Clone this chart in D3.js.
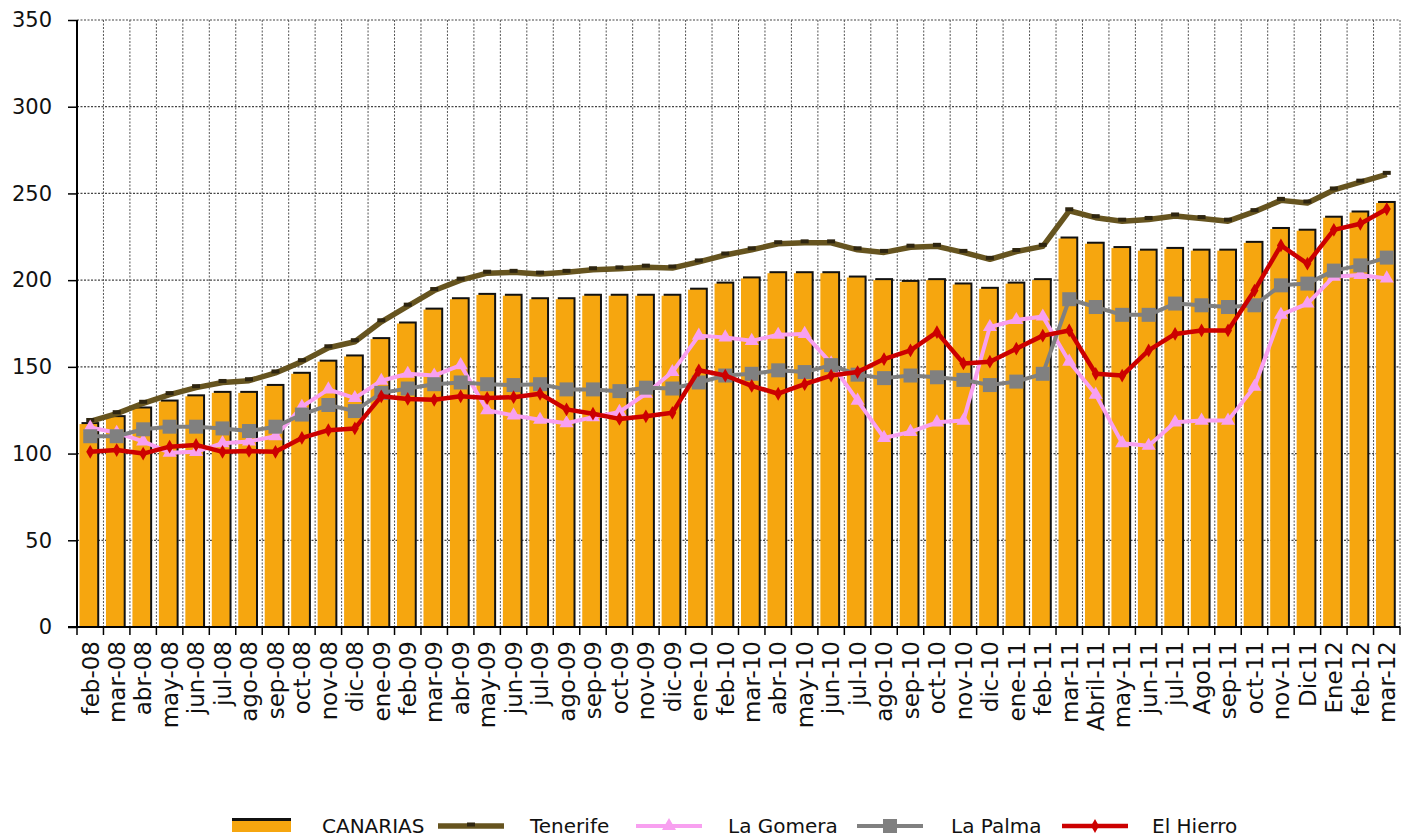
<!DOCTYPE html>
<meta charset="utf-8">
<style>
  body { margin: 0; background: #fff; }
  text { font-family: "DejaVu Sans", Verdana, sans-serif; fill: #111; }
</style>
<body>
<script src="https://cdn.jsdelivr.net/npm/d3@7"></script>
<script>
// months on the x axis
var months = ["feb-08","mar-08","abr-08","may-08","jun-08","jul-08","ago-08","sep-08","oct-08","nov-08","dic-08",
  "ene-09","feb-09","mar-09","abr-09","may-09","jun-09","jul-09","ago-09","sep-09","oct-09","nov-09","dic-09",
  "ene-10","feb-10","mar-10","abr-10","may-10","jun-10","jul-10","ago-10","sep-10","oct-10","nov-10","dic-10",
  "ene-11","feb-11","mar-11","Abril-11","may-11","jun-11","jul-11","Ago11","sep-11","oct-11","nov-11","Dic11",
  "Ene12","feb-12","mar-12"];

// bars
var canarias = [117,121,126,130,133,135,135,139,146,153,156,166,175,183,189,191.5,191,189,189,191,191,191,191,
  194.5,198,201,204,204,204,201.5,200,199,200,197.5,195,198,200,224,221,218.5,217,218,217,217,221.5,229.5,228.5,
  236,239,244.5];

// lines
var tenerife = [118.5,123,129,134,138,141,142,146.5,153,161,164.5,176,185,194,200,204,204.5,203.5,204.5,206,206.5,
  207.5,207,210.5,214.5,217.5,221,221.5,221.5,217.5,216,219,219.5,216,212,216.5,219.5,240,236,234,235,237,235.5,
  234,239.5,246,244.5,252,256.5,261];
var laGomera = [115,112,107,100.5,101,106,107,110,127,137,132,142,146,145,151,125,122,119.5,117.5,121,124,134.5,
  147,168,167,165,168.5,169,152,130.5,109,112.5,118,119,173,177,179,153,134,106,104.5,118,119,119,138.5,180,186.5,
  202,203,201];
var laPalma = [110,110,114,115.5,115.5,114.5,113,115.5,122.5,128,124.5,135,137.5,140,141,140,139.5,140,137,137,136,
  138,137.5,141,145,146,148,147,151,145.5,143.5,145,144,142.5,139.5,141.5,146,189,184.5,180,180,186.5,185.5,184.5,
  185.5,197,198,205.5,208.5,213];
var elHierro = [101,102,100,104,105,101,101.5,101,109,113.5,114.5,133,131.5,131,133,132,132.5,134.5,125.5,123,120,
  121.5,123.5,148,145,139,134.5,140,145,147,154.5,159.5,170,152,153,160.5,168,171,146,145,159.5,169,171,171,194,
  220,209.5,229,232.5,241];

var yTicks = [0,50,100,150,200,250,300,350];

var width = 1402, height = 840;
var plotLeft = 77, plotRight = 1400, plotTop = 20, plotBottom = 627;

var svg = d3.select("body").append("svg")
  .attr("width", width)
  .attr("height", height);

var x = d3.scaleBand().domain(months).range([plotLeft, plotRight]).padding(0);
var y = d3.scaleLinear().domain([0, 350]).range([plotBottom, plotTop]);
var step = x.step();

// grid, behind the bars
svg.append("g").selectAll("line")
  .data(yTicks.filter(function(d){ return d > 0; }))
  .enter().append("line")
    .attr("x1", plotLeft).attr("x2", plotRight)
    .attr("y1", function(d){ return y(d); }).attr("y2", function(d){ return y(d); })
    .attr("stroke", "#444").attr("stroke-width", 1.2).attr("stroke-dasharray", "2,1.5");

svg.append("g").selectAll("line")
  .data(months.slice(1).map(function(m){ return x(m); }).concat([plotRight]))
  .enter().append("line")
    .attr("x1", function(d){ return d; }).attr("x2", function(d){ return d; })
    .attr("y1", plotTop).attr("y2", plotBottom)
    .attr("stroke", "#555").attr("stroke-width", 1).attr("stroke-dasharray", "2,1.5");

// bars with a dark edge
var barW = step * 0.67;
var bars = svg.append("g");
bars.selectAll("rect.shadow")
  .data(canarias)
  .enter().append("rect")
    .attr("class", "shadow")
    .attr("x", function(d, i){ return x(months[i]) + 4.5; })
    .attr("y", function(d){ return y(d) - 2; })
    .attr("width", barW)
    .attr("height", function(d){ return plotBottom - y(d) + 2; })
    .attr("fill", "#111");
bars.selectAll("rect.bar")
  .data(canarias)
  .enter().append("rect")
    .attr("class", "bar")
    .attr("x", function(d, i){ return x(months[i]) + 2.5; })
    .attr("y", function(d){ return y(d); })
    .attr("width", barW)
    .attr("height", function(d){ return plotBottom - y(d); })
    .attr("fill", "#f6a60f");

// axes
svg.append("line").attr("x1", plotLeft).attr("x2", plotLeft).attr("y1", plotTop).attr("y2", plotBottom)
  .attr("stroke", "#000").attr("stroke-width", 2);
svg.append("line").attr("x1", plotLeft - 9).attr("x2", plotRight).attr("y1", plotBottom).attr("y2", plotBottom)
  .attr("stroke", "#000").attr("stroke-width", 2);

var yAxis = svg.append("g")
  .attr("transform", "translate(" + plotLeft + ",0)")
  .call(d3.axisLeft(y).tickValues(yTicks).tickSize(9).tickPadding(16));
yAxis.select(".domain").remove();
yAxis.selectAll("line").attr("stroke", "#000").attr("stroke-width", 1.5);
yAxis.selectAll("text").style("font-size", "21px").attr("fill", "#111");

// x ticks at band edges
svg.append("g").selectAll("line")
  .data(months.map(function(m){ return x(m); }).concat([plotRight]))
  .enter().append("line")
    .attr("x1", function(d){ return d; }).attr("x2", function(d){ return d; })
    .attr("y1", plotBottom).attr("y2", plotBottom + 8)
    .attr("stroke", "#000").attr("stroke-width", 1.5);

var xAxis = svg.append("g")
  .attr("transform", "translate(0," + plotBottom + ")")
  .call(d3.axisBottom(x).tickSize(0));
xAxis.select(".domain").remove();
xAxis.selectAll("text")
  .style("font-size", "23px")
  .attr("text-anchor", "end")
  .attr("transform", "rotate(-90)")
  .attr("x", -14)
  .attr("y", 0)
  .attr("dy", "0.36em");

// series lines
var cx = function(i){ return x(months[i]) + step / 2; };
var line = d3.line()
  .x(function(d, i){ return cx(i); })
  .y(function(d){ return y(d); });

var series = [
  { name: "Tenerife",  values: tenerife, color: "#66541f", w: 5.5, marker: "dash" },
  { name: "La Gomera", values: laGomera, color: "#f8a0f0", w: 4,   marker: "triangle" },
  { name: "La Palma",  values: laPalma,  color: "#808080", w: 4,   marker: "square" },
  { name: "El Hierro", values: elHierro, color: "#cc0000", w: 4.5, marker: "diamond" }
];

function drawMarker(g, s, px, py) {
  if (s.marker === "dash") {
    g.append("rect").attr("x", px - 4).attr("y", py - 3.5).attr("width", 8).attr("height", 4)
      .attr("fill", "#2e2510");
  } else if (s.marker === "triangle") {
    g.append("path").attr("d", d3.symbol().type(d3.symbolTriangle).size(85)())
      .attr("transform", "translate(" + px + "," + py + ")").attr("fill", s.color);
  } else if (s.marker === "square") {
    g.append("rect").attr("x", px - 7).attr("y", py - 7).attr("width", 14).attr("height", 14)
      .attr("fill", s.color);
  } else {
    g.append("path").attr("d", d3.symbol().type(d3.symbolDiamond).size(55)())
      .attr("transform", "translate(" + px + "," + py + ")").attr("fill", s.color);
  }
}

series.forEach(function(s) {
  var g = svg.append("g");
  g.append("path")
    .datum(s.values)
    .attr("d", line)
    .attr("fill", "none")
    .attr("stroke", s.color)
    .attr("stroke-width", s.w)
    .attr("stroke-linejoin", "round");
  s.values.forEach(function(v, i){ drawMarker(g, s, cx(i), y(v)); });
});

// legend
var legend = svg.append("g").attr("class", "legend");
var ly = 826;
legend.append("rect").attr("x", 232).attr("y", ly - 6).attr("width", 59).attr("height", 12).attr("fill", "#f6a60f");
legend.append("rect").attr("x", 232).attr("y", ly - 8).attr("width", 59).attr("height", 3).attr("fill", "#111");
legend.append("text").attr("x", 322).attr("y", ly).attr("dy", "0.36em").style("font-size", "20px").text("CANARIAS");

var legendItems = [
  { s: series[0], x0: 438, tx: 530 },
  { s: series[1], x0: 636, tx: 728 },
  { s: series[2], x0: 857, tx: 951 },
  { s: series[3], x0: 1062, tx: 1152 }
];
legendItems.forEach(function(it) {
  var g = legend.append("g");
  g.append("line").attr("x1", it.x0).attr("x2", it.x0 + 66).attr("y1", ly).attr("y2", ly)
    .attr("stroke", it.s.color).attr("stroke-width", it.s.w);
  drawMarker(g, it.s, it.x0 + 33, ly);
  g.append("text").attr("x", it.tx).attr("y", ly).attr("dy", "0.36em").style("font-size", "20px").text(it.s.name);
});
</script>
</body>
